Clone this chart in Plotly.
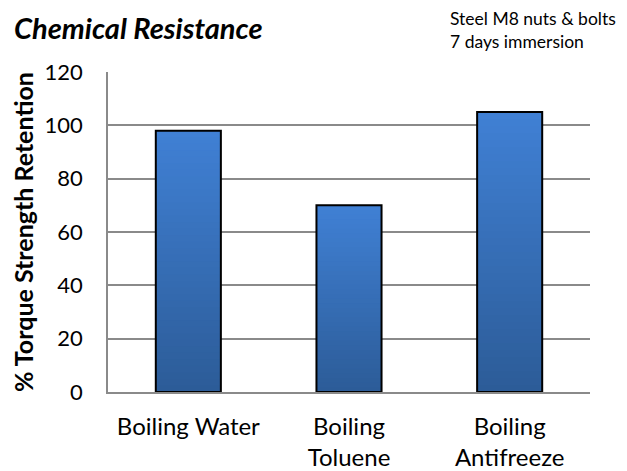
import plotly.graph_objects as go

categories = ["Boiling Water", "Boiling<br>Toluene", "Boiling<br>Antifreeze"]
values = [98, 70, 105]
y_ticks = [0, 20, 40, 60, 80, 100, 120]

top_rgb = (64, 128, 212)
bot_rgb = (44, 92, 152)
N = 40

# page body has an 8px margin, so the figure is sized/offset to fill the window
fig = go.Figure()
for i in reversed(range(N)):
    t = i / (N - 1)
    c = tuple(round(b + (tp - b) * t) for b, tp in zip(bot_rgb, top_rgb))
    fig.add_trace(go.Bar(
        x=categories,
        y=[v * (i + 1) / N for v in values],
        width=0.405,
        marker=dict(color=f"rgb{c}", line=dict(width=0)),
        hoverinfo="skip",
        showlegend=False,
    ))
fig.add_trace(go.Bar(
    x=categories, y=values, width=0.405,
    marker=dict(color="rgba(0,0,0,0)", line=dict(color="black", width=2)),
    showlegend=False,
))

fig.update_layout(
    barmode="overlay",
    width=619, height=463,
    margin=dict(l=100, r=37, t=64, b=79, autoexpand=False),
    paper_bgcolor="white", plot_bgcolor="white",
    font=dict(family="Lato, sans-serif", color="black"),
    annotations=[
        dict(text="<b><i>Chemical Resistance</i></b>", xref="paper", yref="paper",
             x=-96/482, y=1 + 64/320, xanchor="left", yanchor="top",
             showarrow=False, font=dict(size=29)),
        dict(text="Steel M8 nuts & bolts<br>7 days immersion", xref="paper", yref="paper",
             x=(448-108)/482, y=1 + 42/320, xanchor="left", yanchor="middle", align="left",
             showarrow=False, font=dict(size=17.5)),
    ],
)
fig.update_yaxes(
    range=[0, 120], tickvals=y_ticks, showgrid=True, gridcolor="#8a8a8a", gridwidth=1.5,
    showline=True, linecolor="#8a8a8a", linewidth=1.5, zeroline=False,
    ticks="outside", ticklen=19, tickcolor="rgba(0,0,0,0)",
    tickfont=dict(size=22),
    title=dict(text="<b>% Torque Strength Retention</b>", font=dict(size=25), standoff=17),
)
fig.update_xaxes(
    showline=True, linecolor="#8a8a8a", linewidth=1.5,
    ticks="outside", ticklen=12, tickcolor="rgba(0,0,0,0)",
    tickfont=dict(size=24),
)
fig.write_html("out.html")
